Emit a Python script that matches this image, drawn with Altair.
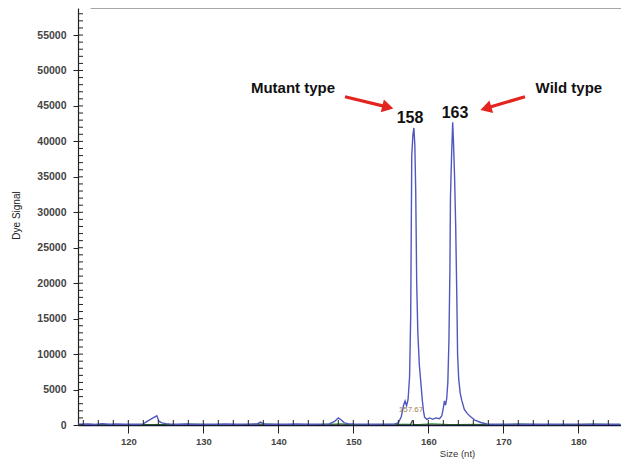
import altair as alt
import pandas as pd

# ---------------- data ----------------
size_blue = [113.3, 114.5, 115.5, 116.5, 117.5, 118.5, 119.5, 120.5, 121.5, 122.0,
             122.5, 123.3, 123.8, 124.1, 124.5, 125.0, 125.5, 126.5, 127.5, 128.5,
             130.0, 131.5, 133.0, 134.5, 136.0, 137.2, 137.6, 137.9, 138.3, 139.5,
             141.0, 142.5, 144.0, 145.5, 146.8, 147.5, 148.0, 148.4, 148.8, 149.3,
             150.0, 151.0, 152.5, 154.0, 155.5,
             156.0, 156.4, 156.7, 156.9, 157.1, 157.3, 157.5, 157.65, 157.79, 157.95,
             158.08, 158.2, 158.32, 158.45, 158.6, 158.8, 159.0, 159.2, 159.35, 159.5,
             159.8, 160.2, 160.6, 161.0, 161.5,
             161.8, 162.0, 162.15, 162.3, 162.45, 162.6, 162.75, 162.88, 162.95, 163.1,
             163.25, 163.35, 163.5, 163.65, 163.8, 163.9, 164.05, 164.25, 164.45, 164.8,
             165.2, 165.6, 166.2, 167.0, 167.8, 169.0, 171.0, 173.0, 175.0, 177.0,
             179.0, 181.0, 183.0, 185.6]
signal_blue = [100, 150, 80, 200, 100, 150, 100, 120, 100, 150,
               500, 1000, 1300, 500, 300, 200, 150, 100, 150, 100,
               120, 100, 150, 100, 120, 150, 400, 250, 100, 120,
               100, 150, 100, 120, 150, 500, 1000, 700, 300, 200,
               150, 120, 100, 130, 150,
               300, 1200, 2800, 3400, 2700, 3600, 6800, 15400, 38000, 41000,
               41900, 39500, 33000, 20000, 13000, 8500, 6000, 3500, 2000, 1100,
               800, 1000, 800, 1000, 900,
               1300, 2400, 3400, 2800, 3700, 6000, 12000, 22000, 32000, 38000,
               42700, 40000, 35000, 28000, 18000, 10000, 6500, 4500, 3500, 2200,
               1600, 1200, 700, 350, 150, 100, 120, 100, 130, 100,
               120, 100, 110, 100]

size_green = [113.3, 115.0, 116.0, 118.0, 121.0, 124.0, 127.0, 128.0, 131.0, 135.0,
              138.0, 141.0, 145.0, 148.5, 149.5, 153.0, 157.0, 158.5, 160.5, 163.0,
              166.0, 170.0, 172.0, 176.0, 180.0, 182.0, 185.6]
signal_green = [30, 120, 40, 60, 40, 80, 40, 150, 40, 60,
                160, 40, 60, 180, 40, 60, 120, 60, 180, 60,
                100, 40, 150, 40, 60, 140, 40]

size_black = [113.3, 157.6, 157.8, 157.87, 157.95, 158.1, 185.6]
signal_black = [0, 0, 500, 650, 500, 0, 0]

x_major = [120, 130, 140, 150, 160, 170, 180]
y_major = list(range(0, 55001, 5000))
x_small = list(range(114, 186, 2))
y_small = list(range(0, 58001, 1000))

ann_text = ["Mutant type", "Wild type"]
ann_size = [141.96, 178.74]
ann_signal = [47490, 47490]

peak_text = ["158", "163"]
peak_size = [157.56, 163.56]
peak_signal = [43260, 43960]

small_text = ["157.67"]
small_size = [157.69]
small_signal = [2115]

arrow_size = [148.89, 172.89]
arrow_signal = [46300, 46300]
arrow_size2 = [154.60, 167.67]
arrow_signal2 = [44830, 44670]
arrow_angle = [13.6, 163.5]

top_line_size = [114.96]
top_line_size2 = [185.69]

X_DOMAIN = [113.29, 185.69]
Y_DOMAIN = [0, 58815]

BLUE = "#5058bd"
RED = "#e3241f"
FONT = "Liberation Sans"

xs = alt.Scale(domain=X_DOMAIN, nice=False, zero=False)
ys = alt.Scale(domain=Y_DOMAIN, nice=False)

df_blue = pd.DataFrame({"size": size_blue, "signal": signal_blue})
df_green = pd.DataFrame({"size": size_green, "signal": signal_green})
df_black = pd.DataFrame({"size": size_black, "signal": signal_black})

x_axis = alt.Axis(values=x_major, format="d", title="Size (nt)", grid=False,
                  tickSize=8, tickColor="#222", domainColor="#1a1a50", domainWidth=1.5,
                  labelFont=FONT, labelFontSize=9.5, labelFontWeight="bold", labelColor="#444",
                  labelPadding=3, titleFont=FONT, titleFontSize=9.5, titleFontWeight="normal",
                  titleColor="#333", titleX=379, titleY=28, titleBaseline="middle",
                  titleAnchor="start", titleAlign="center")
y_axis = alt.Axis(values=y_major, format="d", title="Dye Signal", grid=False,
                  tickSize=5, tickColor="#222", domainColor="#222", domainWidth=1.2,
                  labelFont=FONT, labelFontSize=10.5, labelFontWeight="bold", labelColor="#444",
                  labelPadding=7, titleFont=FONT, titleFontSize=10, titleFontWeight="normal",
                  titleColor="#222", titleX=-62, titleY=207, titleBaseline="middle",
                  titleAlign="center", titleAngle=270)


def X(field):
    return alt.X(field, scale=xs, axis=x_axis)


def Y(field):
    return alt.Y(field, scale=ys, axis=y_axis)


green = alt.Chart(df_green).mark_line(color="#2e9a3a", strokeWidth=1).encode(
    x=X("size:Q"), y=Y("signal:Q"))
black = alt.Chart(df_black).mark_line(color="#111", strokeWidth=1).encode(
    x=X("size:Q"), y=Y("signal:Q"))
blue = alt.Chart(df_blue).mark_line(color=BLUE, strokeWidth=1.4).encode(
    x=X("size:Q"), y=Y("signal:Q"))

xt = alt.Chart(pd.DataFrame({"v": x_small})).mark_rule(color="#222", strokeWidth=1).encode(
    x=X("v:Q"), y=alt.value(417), y2=alt.value(412))
yt = alt.Chart(pd.DataFrame({"v": y_small})).mark_rule(color="#222", strokeWidth=1).encode(
    y=Y("v:Q"), x=alt.value(0), x2=alt.value(5))

top_line = alt.Chart(pd.DataFrame({"a": top_line_size, "b": top_line_size2})).mark_rule(
    color="#8a8a8a", strokeWidth=1.6).encode(
    x=X("a:Q"), x2="b:Q", y=alt.value(0))

ann = alt.Chart(pd.DataFrame({"t": ann_text, "s": ann_size, "v": ann_signal})).mark_text(
    font=FONT, fontSize=15, fontWeight="bold", color="#111", baseline="middle").encode(
    x=X("s:Q"), y=Y("v:Q"), text="t:N")
peaks = alt.Chart(pd.DataFrame({"t": peak_text, "s": peak_size, "v": peak_signal})).mark_text(
    font=FONT, fontSize=16, fontWeight="bold", color="#111", baseline="middle").encode(
    x=X("s:Q"), y=Y("v:Q"), text="t:N")
small = alt.Chart(pd.DataFrame({"t": small_text, "s": small_size, "v": small_signal})).mark_text(
    font=FONT, fontSize=8, color="#a07f4c", baseline="middle").encode(
    x=X("s:Q"), y=Y("v:Q"), text="t:N")

df_arrow = pd.DataFrame({"s": arrow_size, "v": arrow_signal, "s2": arrow_size2,
                         "v2": arrow_signal2, "ang": arrow_angle})
shafts = alt.Chart(df_arrow).mark_rule(color=RED, strokeWidth=3.2).encode(
    x=X("s:Q"), y=Y("v:Q"), x2="s2:Q", y2="v2:Q")
heads = alt.Chart(df_arrow).mark_point(shape="triangle-right", filled=True, color=RED,
                                       size=170, opacity=1).encode(
    x=X("s2:Q"), y=Y("v2:Q"), angle=alt.Angle("ang:Q", scale=None))

chart = alt.layer(green, black, blue, xt, yt, top_line, shafts, heads, small, ann, peaks).properties(
    width=543, height=417,
    autosize=alt.AutoSizeParams(type="none"),
    padding={"left": 70, "top": 0, "right": 0, "bottom": 36},
    background="white",
).configure_view(stroke=None)

chart.save("out.html", embed_options={"renderer": "svg", "actions": False})
